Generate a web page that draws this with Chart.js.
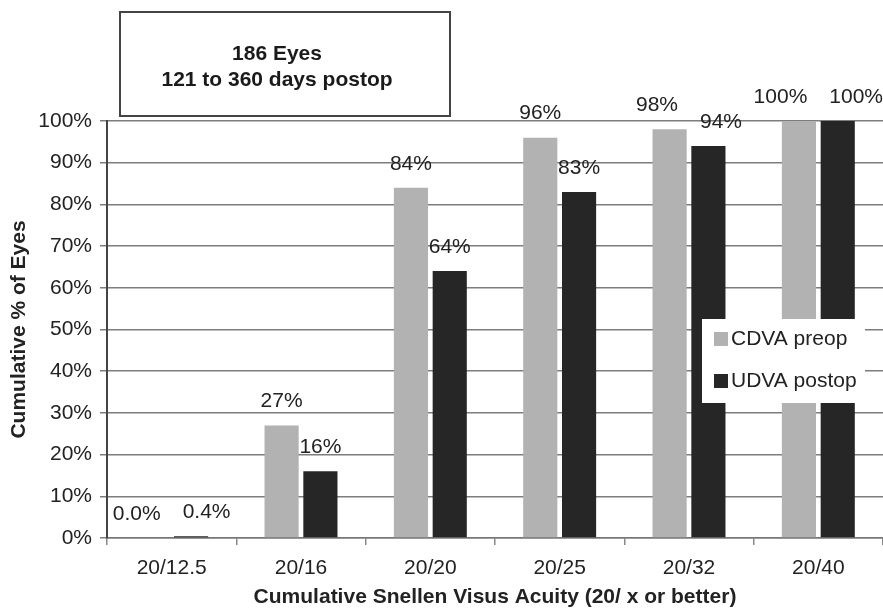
<!DOCTYPE html>
<html>
<head>
<meta charset="utf-8">
<script src="https://cdn.jsdelivr.net/npm/chart.js@4/dist/chart.umd.min.js"></script>
<style>
    body { margin: 0; background: #fff; }
    #wrap { width: 883px; height: 608px; }
</style>
</head>
<body>
<div id="wrap"><canvas id="chartAcuity" width="883" height="608"></canvas></div>
<script>
// Datos del gráfico
const categorias = ['20/12.5', '20/16', '20/20', '20/25', '20/32', '20/40'];
const cdvaPreop = [0, 27, 84, 96, 98, 100];
const udvaPostop = [0.4, 16, 64, 83, 94, 100];
const nombresSeries = ['CDVA preop', 'UDVA postop'];
const coloresSeries = ['#b2b2b2', '#262626'];
const tituloCaja = ['186 Eyes', '121 to 360 days postop'];

const FUENTE = '"Liberation Sans", Arial, Helvetica, sans-serif';

function formatoPct(v) {
    return (v < 1 ? v.toFixed(1) : Math.round(v)) + '%';
}

// Etiquetas de valor sobre cada barra (se separan si se solapan)
const pluginEtiquetas = {
    id: 'etiquetas',
    afterDatasetsDraw(chart) {
        const ctx = chart.ctx;
        ctx.save();
        ctx.font = '21px ' + FUENTE;
        ctx.fillStyle = '#222';
        ctx.textAlign = 'center';
        ctx.textBaseline = 'middle';
        const metaA = chart.getDatasetMeta(0).data;
        const metaB = chart.getDatasetMeta(1).data;
        const dsA = chart.data.datasets[0].data;
        const dsB = chart.data.datasets[1].data;
        metaA.forEach((barA, j) => {
            const barB = metaB[j];
            const txtA = formatoPct(dsA[j]);
            const txtB = formatoPct(dsB[j]);
            const wA = ctx.measureText(txtA).width;
            const wB = ctx.measureText(txtB).width;
            let xA = barA.x;
            let xB = barB.x;
            const yA = barA.y - 24;
            const yB = barB.y - 24;
            if (Math.abs(yA - yB) < 22) {
                const hueco = (xB - wB / 2) - (xA + wA / 2);
                const minimo = 22;
                if (hueco < minimo) {
                    const d = (minimo - hueco) / 2;
                    xA -= d;
                    xB += d;
                }
            }
            ctx.fillText(txtA, xA, yA);
            ctx.fillText(txtB, xB, yB);
        });
        ctx.restore();
    }
};

// Caja de título arriba a la izquierda
const pluginCaja = {
    id: 'cajaTitulo',
    afterDraw(chart) {
        const ctx = chart.ctx;
        ctx.save();
        ctx.fillStyle = '#fff';
        ctx.fillRect(120, 12, 330, 104);
        ctx.strokeStyle = '#444';
        ctx.lineWidth = 2;
        ctx.strokeRect(120, 12, 330, 104);
        ctx.fillStyle = '#1a1a1a';
        ctx.font = 'bold 21px ' + FUENTE;
        ctx.textAlign = 'center';
        ctx.textBaseline = 'middle';
        ctx.fillText(tituloCaja[0], 277, 54);
        ctx.fillText(tituloCaja[1], 277, 80);
        ctx.restore();
    }
};

// Leyenda dentro del área del gráfico
const pluginLeyenda = {
    id: 'leyendaInterna',
    afterDatasetsDraw(chart) {
        const ctx = chart.ctx;
        ctx.save();
        ctx.fillStyle = '#fff';
        ctx.fillRect(702, 319, 163, 84);
        ctx.font = '21px ' + FUENTE;
        ctx.textAlign = 'left';
        ctx.textBaseline = 'middle';
        chart.data.datasets.forEach((ds, i) => {
            const y = 339 + i * 42;
            ctx.fillStyle = ds.backgroundColor;
            ctx.fillRect(714, y - 7, 14, 14);
            ctx.fillStyle = '#222';
            ctx.fillText(ds.label, 731, y);
        });
        ctx.restore();
    }
};

const ctx = document.getElementById('chartAcuity').getContext('2d');
const chartAcuity = new Chart(ctx, {
    type: 'bar',
    data: {
        labels: categorias,
        datasets: [
            {
                label: nombresSeries[0],
                data: cdvaPreop,
                backgroundColor: coloresSeries[0],
                borderWidth: 0,
                barPercentage: 0.88,
                categoryPercentage: 0.6
            },
            {
                label: nombresSeries[1],
                data: udvaPostop,
                backgroundColor: coloresSeries[1],
                borderWidth: 0,
                barPercentage: 0.88,
                categoryPercentage: 0.6
            }
        ]
    },
    options: {
        responsive: false,
        animation: false,
        layout: {
            padding: { top: 121, right: 0, bottom: 0, left: 0 }
        },
        plugins: {
            legend: { display: false },
            tooltip: { enabled: false }
        },
        scales: {
            x: {
                afterFit: (scale) => { scale.height = 70; },
                grid: {
                    offset: true,
                    drawOnChartArea: false,
                    drawTicks: true,
                    tickLength: 7,
                    color: '#888',
                    lineWidth: 1.5
                },
                border: { color: '#777', width: 1.5 },
                ticks: {
                    color: '#222',
                    padding: 11,
                    font: { family: FUENTE, size: 21 },
                    maxRotation: 0
                },
                title: {
                    display: true,
                    text: 'Cumulative Snellen Visus Acuity (20/ x or better)',
                    color: '#222',
                    padding: { top: 0, bottom: 0 },
                    font: { family: FUENTE, size: 21, weight: 'bold', lineHeight: 1.05 }
                }
            },
            y: {
                min: 0,
                max: 100,
                afterFit: (scale) => { scale.width = 107; },
                grid: {
                    color: '#7d7d7d',
                    lineWidth: 1.5,
                    tickLength: 7
                },
                border: { color: '#444', width: 2 },
                ticks: {
                    stepSize: 10,
                    color: '#222',
                    padding: 8,
                    font: { family: FUENTE, size: 21 },
                    callback: (v) => v + '%'
                },
                title: {
                    display: true,
                    text: 'Cumulative % of Eyes',
                    color: '#222',
                    padding: { top: 7, bottom: 4 },
                    font: { family: FUENTE, size: 21, weight: 'bold' }
                }
            }
        }
    },
    plugins: [pluginEtiquetas, pluginLeyenda, pluginCaja]
});
</script>
</body>
</html>
